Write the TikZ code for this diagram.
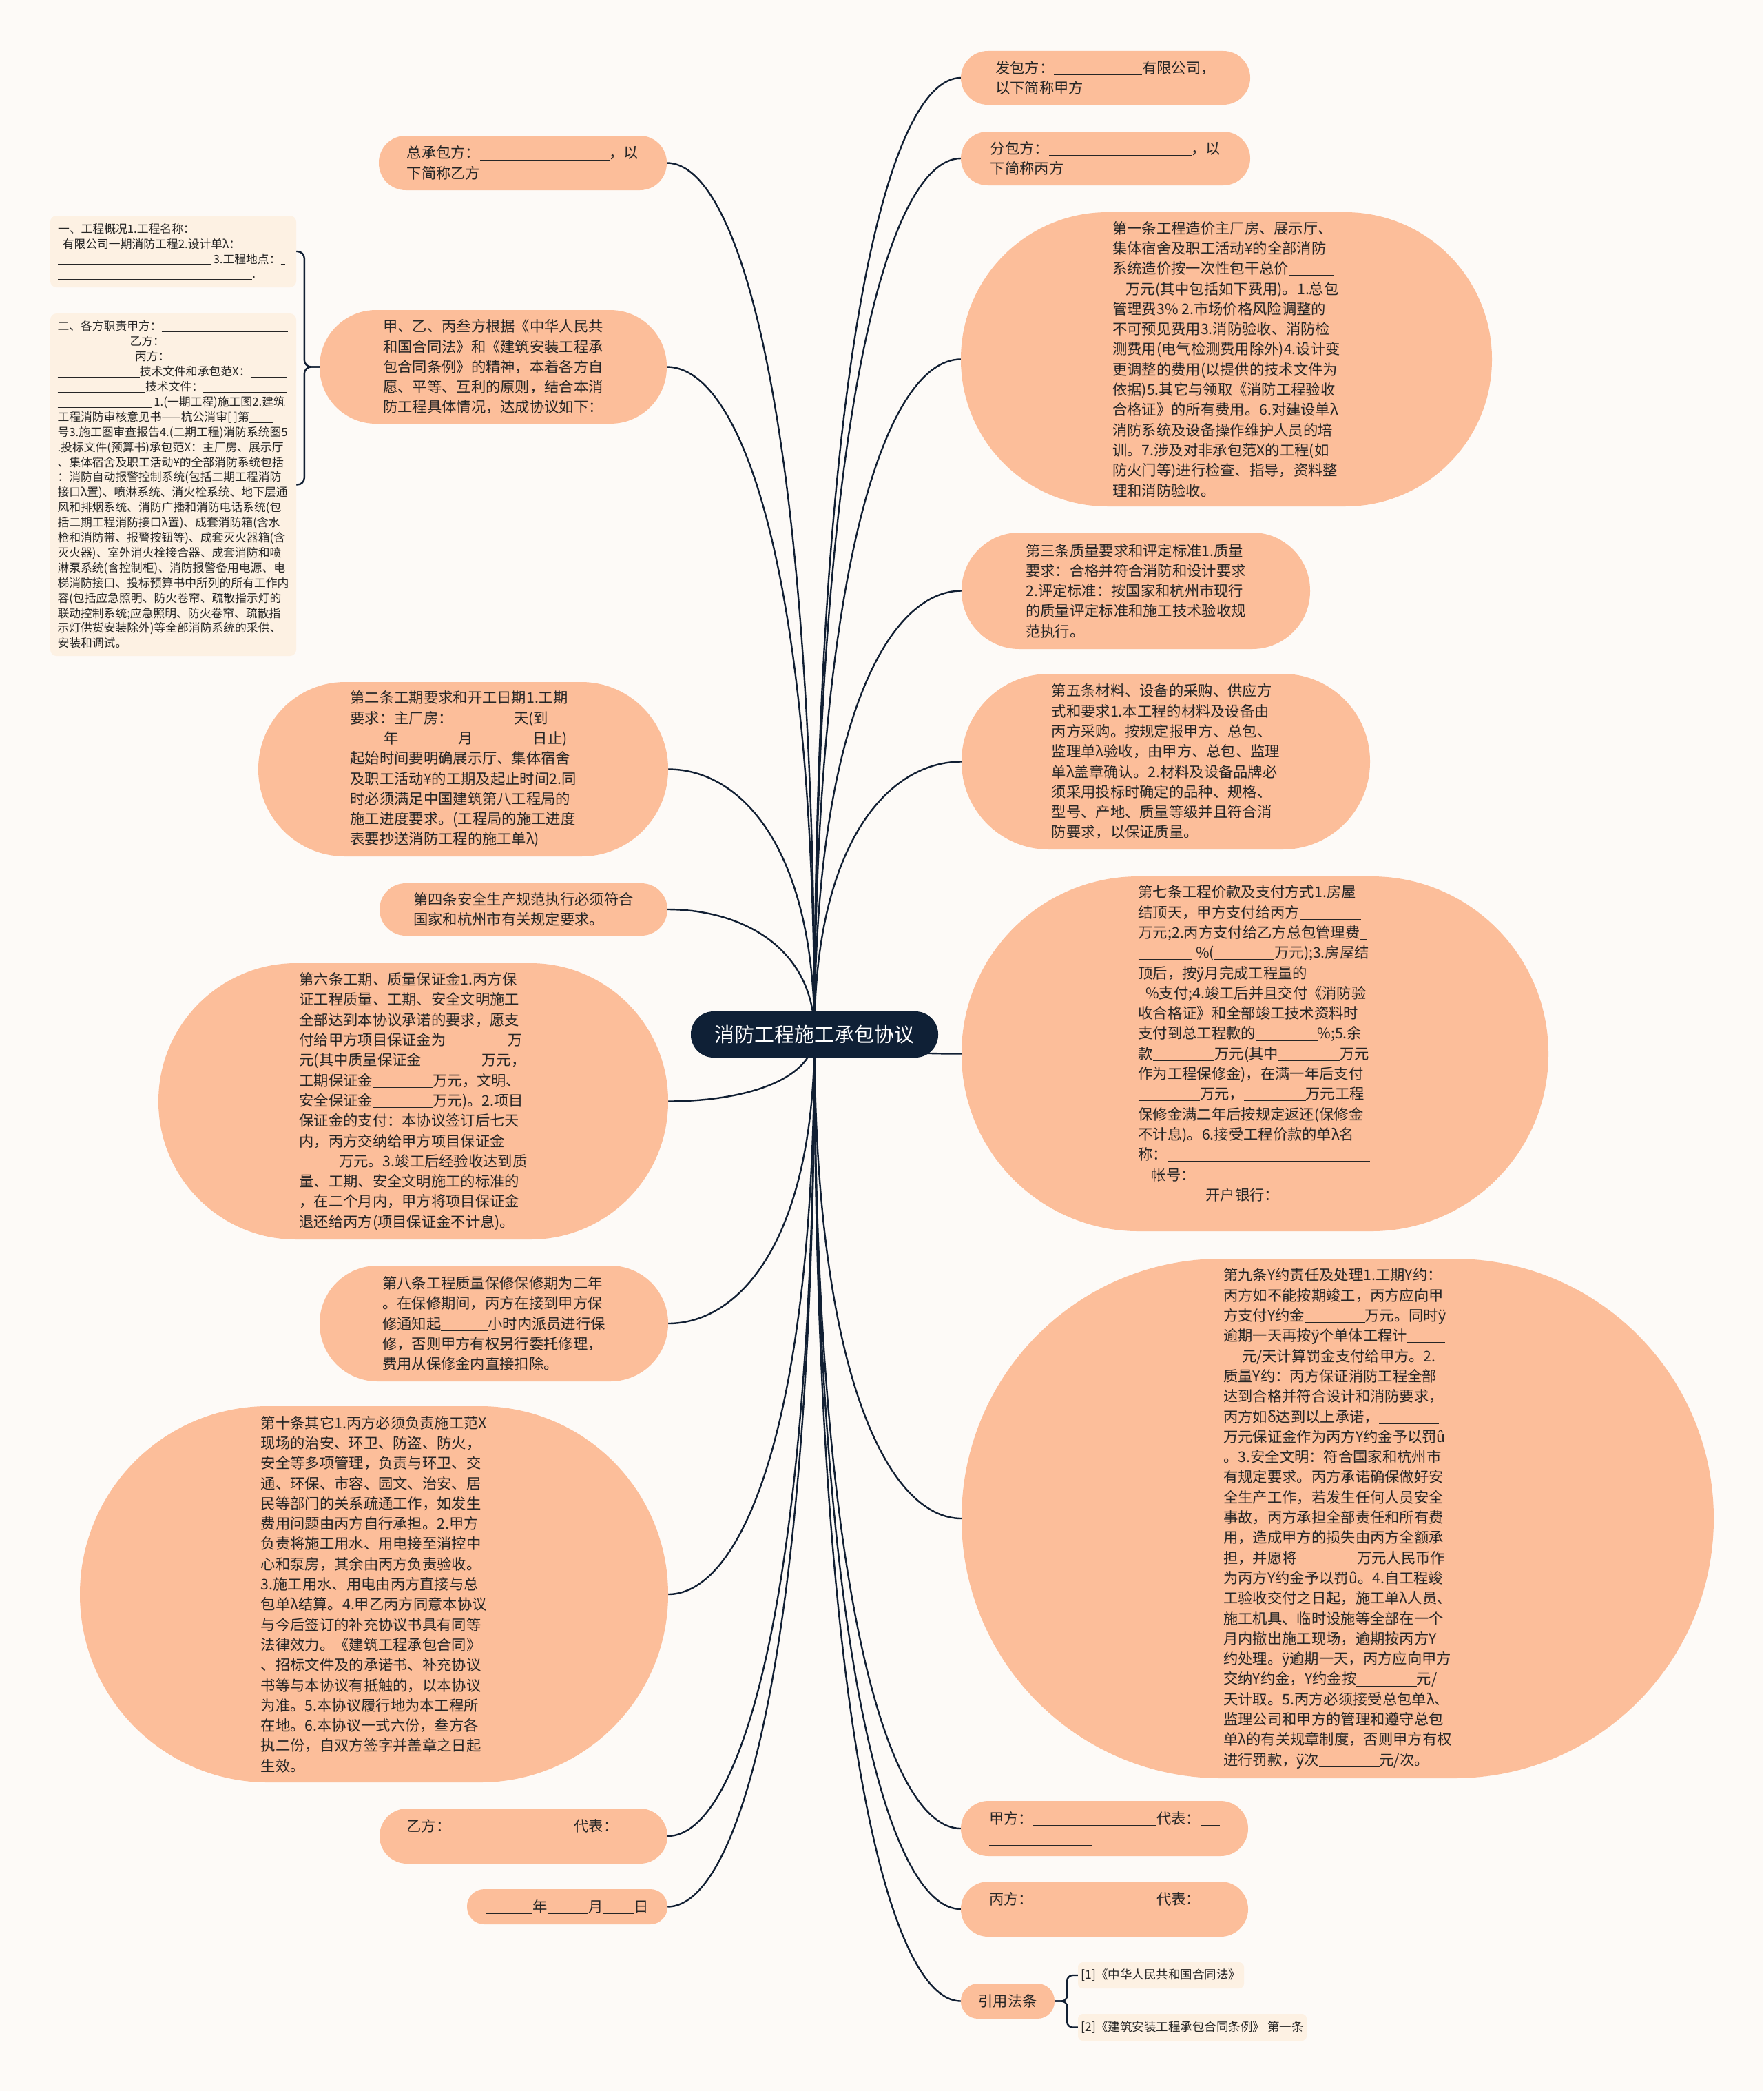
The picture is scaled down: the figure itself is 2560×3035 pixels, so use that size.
\documentclass[tikz,border=0pt]{standalone}
\usepackage{fontspec}
\setmainfont{Noto Sans CJK SC}
\usetikzlibrary{calc}
\definecolor{peach}{RGB}{252,190,154}
\definecolor{notec}{RGB}{253,241,227}
\definecolor{bgc}{RGB}{253,250,247}
\definecolor{edgec}{RGB}{17,31,51}
\definecolor{navy}{RGB}{15,32,54}
\definecolor{txt}{RGB}{38,38,38}
\newcommand\bk[1]{\rule[-0.12em]{#1em}{0.045em}}
\newcommand\bodyf{\fontsize{21.3pt}{29.3pt}\selectfont}
\newcommand\notef{\fontsize{16.8pt}{21.9pt}\selectfont}
\newcommand\reff{\fontsize{17.5pt}{22pt}\selectfont}
\newcommand\ctrf{\fontsize{29pt}{36pt}\selectfont}
\pgfdeclarelayer{bglayer}
\pgfdeclarelayer{edgelayer}
\pgfsetlayers{bglayer,edgelayer,main}
\begin{document}
\begin{tikzpicture}[x=1pt,y=-1pt,
  mnode/.style={fill=peach,text=txt,align=left,inner sep=0pt,font=\bodyf},
  notebox/.style={fill=notec,text=txt,align=left,inner sep=0pt,font=\notef,rounded corners=9pt},
  refbox/.style={fill=notec,text=txt,align=left,inner sep=0pt,font=\reff,rounded corners=7pt},
  conn/.style={draw=edgec,line width=2.4pt},
  ]
\begin{pgfonlayer}{bglayer}
\fill[bgc] (0,0) rectangle (2560,3035);
\end{pgfonlayer}
\useasboundingbox (0,0) rectangle (2560,3035);

% center
\node[fill=navy,text=white,font=\ctrf,inner sep=0pt,minimum width=359pt,minimum height=67pt,rounded corners=33pt] (ctr) at (1182.5,1501.5) {消防工程施工承包协议};

% right side
\node[mnode,minimum width=420pt,minimum height=78pt,rounded corners=39pt] (fb) at (1605,113)
{发包方：\bk{6.0}有限公司，\\以下简称甲方};
\node[mnode,minimum width=420pt,minimum height=78pt,rounded corners=39pt] (fen) at (1605,230)
{分包方：\bk{9.7}，以\\下简称丙方};
\node[mnode,minimum width=771pt,minimum height=427pt,rounded corners=213pt] (t1) at (1780.5,521.5)
{第一条工程造价主厂房、展示厅、\\集体宿舍及职工活动¥的全部消防\\系统造价按一次性包干总价\bk{3.1}\\\bk{0.9}万元(其中包括如下费用)。1.总包\\管理费3\% 2.市场价格风险调整的\\不可预见费用3.消防验收、消防检\\测费用(电气检测费用除外)4.设计变\\更调整的费用(以提供的技术文件为\\依据)5.其它与领取《消防工程验收\\合格证》的所有费用。6.对建设单λ\\消防系统及设备操作维护人员的培\\训。7.涉及对非承包范X的工程(如\\防火门等)进行检查、指导，资料整\\理和消防验收。};
\node[mnode,minimum width=506pt,minimum height=169pt,rounded corners=84pt] (t3) at (1649,857.5)
{第三条质量要求和评定标准1.质量\\要求：合格并符合消防和设计要求\\2.评定标准：按国家和杭州市现行\\的质量评定标准和施工技术验收规\\范执行。};
\node[mnode,minimum width=593pt,minimum height=255pt,rounded corners=127pt] (t5) at (1692.5,1105.5)
{第五条材料、设备的采购、供应方\\式和要求1.本工程的材料及设备由\\丙方采购。按规定报甲方、总包、\\监理单λ验收，由甲方、总包、监理\\单λ盖章确认。2.材料及设备品牌必\\须采用投标时确定的品种、规格、\\型号、产地、质量等级并且符合消\\防要求，以保证质量。};
\node[mnode,minimum width=852pt,minimum height=515pt,rounded corners=257pt] (t7) at (1822,1529.5)
{第七条工程价款及支付方式1.房屋\\结顶天，甲方支付给丙方\bk{4.2}\\万元;2.丙方支付给乙方总包管理费\bk{0.5}\\\bk{3.7} \%(\bk{4.1}万元);3.房屋结\\顶后，按ÿ月完成工程量的\bk{3.7}\\\bk{0.5}\%支付;4.竣工后并且交付《消防验\\收合格证》和全部竣工技术资料时\\支付到总工程款的\bk{4.2}\%;5.余\\款\bk{4.2}万元(其中\bk{4.2}万元\\作为工程保修金)，在满一年后支付\\\bk{4.2}万元，\bk{4.2}万元工程\\保修金满二年后按规定返还(保修金\\不计息)。6.接受工程价款的单λ名\\称：\bk{13.8}\\\bk{0.9}帐号：\bk{12}\\\bk{4.6}开户银行：\bk{6.1}\\\bk{8.9}};
\node[mnode,minimum width=1092pt,minimum height=754pt,rounded corners=377pt] (t9) at (1942,2204)
{第九条Y约责任及处理1.工期Y约：\\丙方如不能按期竣工，丙方应向甲\\方支付Y约金\bk{4.1}万元。同时ÿ\\逾期一天再按ÿ个单体工程计\bk{2.6}\\\bk{1.25}元/天计算罚金支付给甲方。2.\\质量Y约：丙方保证消防工程全部\\达到合格并符合设计和消防要求，\\丙方如δ达到以上承诺，\bk{4.1}\\万元保证金作为丙方Y约金予以罚û\\。3.安全文明：符合国家和杭州市\\有规定要求。丙方承诺确保做好安\\全生产工作，若发生任何人员安全\\事故，丙方承担全部责任和所有费\\用，造成甲方的损失由丙方全额承\\担，并愿将\bk{4.1}万元人民币作\\为丙方Y约金予以罚û。4.自工程竣\\工验收交付之日起，施工单λ人员、\\施工机具、临时设施等全部在一个\\月内撤出施工现场，逾期按丙方Y\\约处理。ÿ逾期一天，丙方应向甲方\\交纳Y约金，Y约金按\bk{4.1}元/\\天计取。5.丙方必须接受总包单λ、\\监理公司和甲方的管理和遵守总包\\单λ的有关规章制度，否则甲方有权\\进行罚款，ÿ次\bk{4.1}元/次。};
\node[mnode,minimum width=417pt,minimum height=80pt,rounded corners=40pt] (jia) at (1603.5,2654)
{甲方：\bk{8.4}代表：\bk{1.3}\\\bk{7}};
\node[mnode,minimum width=417pt,minimum height=80pt,rounded corners=40pt] (bing) at (1603.5,2771)
{丙方：\bk{8.4}代表：\bk{1.3}\\\bk{7}};
\node[mnode,minimum width=136pt,minimum height=51pt,rounded corners=25pt] (yf) at (1463,2904.5) {引用法条};
\node[refbox,minimum width=241pt,minimum height=38pt] (r1) at (1685.5,2867) {[1]《中华人民共和国合同法》};
\node[refbox,minimum width=332pt,minimum height=39pt] (r2) at (1731,2942.5) {[2]《建筑安装工程承包合同条例》 第一条};

% left side
\node[mnode,minimum width=418pt,minimum height=79pt,rounded corners=39pt] (zcb) at (759,236.5)
{总承包方：\bk{8.8}，以\\下简称乙方};
\node[mnode,minimum width=504pt,minimum height=165pt,rounded corners=82pt] (jyb) at (716,532.5)
{甲、乙、丙叁方根据《中华人民共\\和国合同法》和《建筑安装工程承\\包合同条例》的精神，本着各方自\\愿、平等、互利的原则，结合本消\\防工程具体情况，达成协议如下：};
\node[notebox,minimum width=357pt,minimum height=104pt] (n1) at (251.5,365)
{一、工程概况1.工程名称：\bk{8.1}\\\bk{0.4}有限公司一期消防工程2.设计单λ：\bk{4.1}\\\bk{13.2} 3.工程地点：\bk{0.4}\\\bk{16.8}.};
\node[notebox,minimum width=357pt,minimum height=497pt] (n2) at (251.5,703.5)
{二、各方职责甲方：\bk{10.9}\\\bk{6.25}乙方：\bk{10.4}\\\bk{6.7}丙方：\bk{10}\\\bk{7.1}技术文件和承包范X：\bk{3.1}\\\bk{7.6}技术文件：\bk{7.2}\\\bk{8.1} 1.(一期工程)施工图2.建筑\\工程消防审核意见书——杭公消审[ ]第\bk{2}\\号3.施工图审查报告4.(二期工程)消防系统图5\\.投标文件(预算书)承包范X：主厂房、展示厅\\、集体宿舍及职工活动¥的全部消防系统包括\\：消防自动报警控制系统(包括二期工程消防\\接口λ置)、喷淋系统、消火栓系统、地下层通\\风和排烟系统、消防广播和消防电话系统(包\\括二期工程消防接口λ置)、成套消防箱(含水\\枪和消防带、报警按钮等)、成套灭火器箱(含\\灭火器)、室外消火栓接合器、成套消防和喷\\淋泵系统(含控制柜)、消防报警备用电源、电\\梯消防接口、投标预算书中所列的所有工作内\\容(包括应急照明、防火卷帘、疏散指示灯的\\联动控制系统;应急照明、防火卷帘、疏散指\\示灯供货安装除外)等全部消防系统的采供、\\安装和调试。};
\node[mnode,minimum width=595pt,minimum height=253pt,rounded corners=126pt] (t2) at (672.5,1116.5)
{第二条工期要求和开工日期1.工期\\要求：主厂房：\bk{4.15}天(到\bk{1.8}\\\bk{2.3}年\bk{4.05}月\bk{4.1}日止)\\起始时间要明确展示厅、集体宿舍\\及职工活动¥的工期及起止时间2.同\\时必须满足中国建筑第八工程局的\\施工进度要求。(工程局的施工进度\\表要抄送消防工程的施工单λ)};
\node[mnode,minimum width=418pt,minimum height=76pt,rounded corners=38pt] (t4) at (760,1320)
{第四条安全生产规范执行必须符合\\国家和杭州市有关规定要求。};
\node[mnode,minimum width=740pt,minimum height=401pt,rounded corners=200pt] (t6) at (600,1598.5)
{第六条工期、质量保证金1.丙方保\\证工程质量、工期、安全文明施工\\全部达到本协议承诺的要求，愿支\\付给甲方项目保证金为\bk{4.2}万\\元(其中质量保证金\bk{4.1}万元，\\工期保证金\bk{4.1}万元，文明、\\安全保证金\bk{4.1}万元)。2.项目\\保证金的支付：本协议签订后七天\\内，丙方交纳给甲方项目保证金\bk{1.3}\\\bk{2.7}万元。3.竣工后经验收达到质\\量、工期、安全文明施工的标准的\\，在二个月内，甲方将项目保证金\\退还给丙方(项目保证金不计息)。};
\node[mnode,minimum width=506pt,minimum height=168pt,rounded corners=84pt] (t8) at (717,1921)
{第八条工程质量保修保修期为二年\\。在保修期间，丙方在接到甲方保\\修通知起\bk{3.2}小时内派员进行保\\修，否则甲方有权另行委托修理，\\费用从保修金内直接扣除。};
\node[mnode,minimum width=854pt,minimum height=546pt,rounded corners=273pt] (t10) at (543,2314)
{第十条其它1.丙方必须负责施工范X\\现场的治安、环卫、防盗、防火，\\安全等多项管理，负责与环卫、交\\通、环保、市容、园文、治安、居\\民等部门的关系疏通工作，如发生\\费用问题由丙方自行承担。2.甲方\\负责将施工用水、用电接至消控中\\心和泵房，其余由丙方负责验收。\\3.施工用水、用电由丙方直接与总\\包单λ结算。4.甲乙丙方同意本协议\\与今后签订的补充协议书具有同等\\法律效力。《建筑工程承包合同》\\、招标文件及的承诺书、补充协议\\书等与本协议有抵触的，以本协议\\为准。5.本协议履行地为本工程所\\在地。6.本协议一式六份，叁方各\\执二份，自双方签字并盖章之日起\\生效。};
\node[mnode,minimum width=418pt,minimum height=80pt,rounded corners=40pt] (yi) at (760,2665)
{乙方：\bk{8.4}代表：\bk{1.5}\\\bk{6.9}};
\node[mnode,minimum width=291pt,minimum height=51pt,rounded corners=25pt] (nyr) at (823.5,2767.5)
{\bk{3.2}年\bk{2.8}月\bk{2.1}日};

% connectors
\begin{pgfonlayer}{edgelayer}
\foreach \n in {fb,fen,t1,t3,t5,t7,t9,jia,bing,yf}
  \draw[conn] (ctr.center) .. controls ($(ctr.center)!0.7!(ctr.center |- \n.west)$) and ($(\n.west)!0.5!(ctr.center |- \n.west)$) .. (\n.west);
\foreach \n in {zcb,jyb,t2,t4,t6,t8,t10,yi,nyr}
  \draw[conn] (ctr.center) .. controls ($(ctr.center)!0.7!(ctr.center |- \n.east)$) and ($(\n.east)!0.5!(ctr.center |- \n.east)$) .. (\n.east);
\draw[conn,rounded corners=10pt] (jyb.west) -- ++(-22,0) |- (n1.east);
\draw[conn,rounded corners=10pt] (jyb.west) -- ++(-22,0) |- (n2.east);
\draw[conn,rounded corners=8pt] (yf.east) -- ++(18,0) |- (r1.west);
\draw[conn,rounded corners=8pt] (yf.east) -- ++(18,0) |- (r2.west);
\end{pgfonlayer}
\end{tikzpicture}
\end{document}
